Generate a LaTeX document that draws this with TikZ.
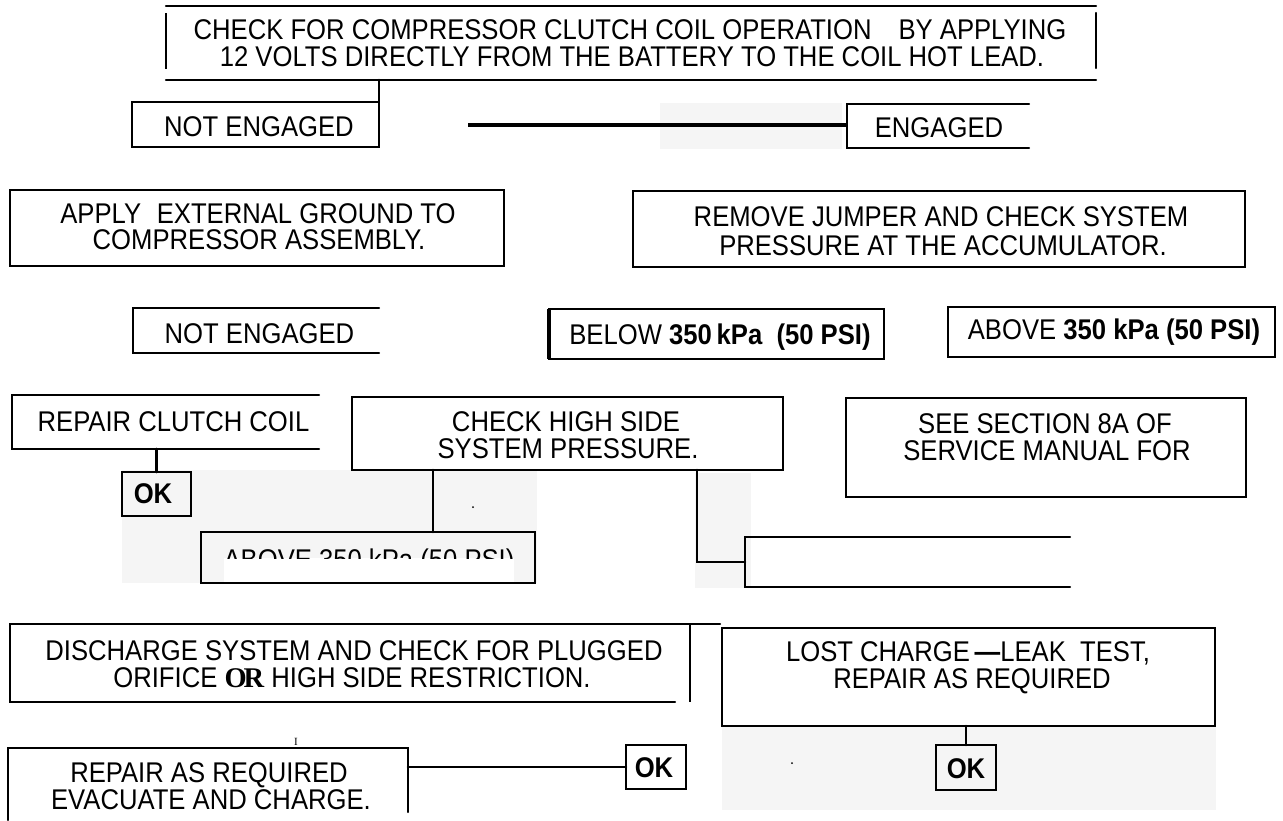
\documentclass[tikz,border=0pt]{standalone}
\usepackage{fontspec}
\setmainfont{Liberation Sans}[FakeStretch=0.9]
\newfontfamily\serffont{Liberation Serif}
\begin{document}
\begin{tikzpicture}[x=1pt,y=-1pt,
  ln/.style={line width=2.2pt, line cap=round},
  cn/.style={line width=2.6pt, line cap=round},
  fr/.style 2 args={draw=none, inner sep=0pt, outer sep=0pt, minimum width=#1, minimum height=#2},
  txt/.style={inner sep=0pt, anchor=base, text height=20pt, text depth=0pt, font=\fontsize{28.5}{30}\selectfont},
  bg/.style={fill=black!4, draw=none}]
\useasboundingbox[fill=white] (0,0) rectangle (1283,820);

% light grey patches of the scan
\fill[bg] (660,103) rectangle (842,149);
\fill[bg] (122,470) rectangle (537,583);
\fill[bg] (695,473) rectangle (751,588);
\fill[bg] (722,727) rectangle (1216,810);
\fill[white] (224,558) rectangle (514,582);

% box frames (named nodes)
\node[fr={930pt}{74pt}] (top) at (631,43) {};
\node[fr={247pt}{45pt}] (ne1) at (255.5,124.5) {};
\node[fr={182pt}{44pt}] (eng) at (938,126) {};
\node[fr={494pt}{76pt}] (apply) at (257,228) {};
\node[fr={612pt}{76pt}] (remove) at (939,229) {};
\node[fr={246pt}{45pt}] (ne2) at (256,330.5) {};
\node[fr={335pt}{50pt}] (below) at (716.5,334) {};
\node[fr={327pt}{50pt}] (above) at (1111.5,332) {};
\node[fr={307pt}{54pt}] (repclutch) at (165.5,422) {};
\node[fr={69pt}{44pt}] (ok1) at (156.5,494) {};
\node[fr={431pt}{73pt}] (checkhigh) at (567.5,433.5) {};
\node[fr={334pt}{51pt}] (above2) at (368,557.5) {};
\node[fr={325pt}{50pt}] (empty) at (907.5,562) {};
\node[fr={400pt}{99pt}] (see) at (1046,447.5) {};
\node[fr={680pt}{78pt}] (discharge) at (350,663) {};
\node[fr={493pt}{98pt}] (lost) at (968.5,677) {};
\node[fr={60pt}{45pt}] (ok3) at (966,767.5) {};
\node[fr={400pt}{72pt}] (repair) at (208,784) {};
\node[fr={60pt}{44pt}] (ok2) at (656,767) {};

% drawn sides
\draw[ln] (top.north west) -- (top.north east);
\draw[ln] (top.south west) -- (top.south east);
\draw[line width=1.8pt] ([yshift=-7pt]top.north west) -- ([yshift=11pt]top.south west);
\draw[ln] ([yshift=-7pt]top.north east) -- ([yshift=12pt]top.south east);

\draw[ln] (ne1.north west) rectangle (ne1.south east);
\draw[ln] (eng.north east) -- (eng.north west) -- (eng.south west) -- (eng.south east);
\draw[ln] (apply.north west) rectangle (apply.south east);
\draw[ln] (remove.north west) rectangle (remove.south east);
\draw[ln] (ne2.north east) -- (ne2.north west) -- (ne2.south west) -- (ne2.south east);
\draw[ln] (below.north west) rectangle (below.south east);
\draw[line width=3.5pt] (below.north west) -- (below.south west);
\draw[ln] (above.north west) rectangle (above.south east);
\draw[ln] (repclutch.north east) -- (repclutch.north west) -- (repclutch.south west) -- (repclutch.south east);
\draw[ln] (ok1.north west) rectangle (ok1.south east);
\draw[ln] (checkhigh.north west) rectangle (checkhigh.south east);
\draw[ln] (above2.north west) rectangle (above2.south east);
\draw[ln] (empty.north east) -- (empty.north west) -- (empty.south west) -- (empty.south east);
\draw[ln] (see.north west) rectangle (see.south east);
\draw[ln] ([xshift=30pt]discharge.north east) -- (discharge.north west) -- (discharge.south west) -- ([xshift=-15pt]discharge.south east);
\draw[line width=1.6pt] (discharge.north east) -- (discharge.south east);
\draw[ln] (lost.north west) rectangle (lost.south east);
\draw[ln] (ok3.north west) rectangle (ok3.south east);
\draw[ln] (repair.south west) -- (repair.north west) -- (repair.north east) -- ([yshift=8pt]repair.south east);
\draw[ln] (ok2.north west) rectangle (ok2.south east);

% connectors
\coordinate (h1) at (468,125);
\draw[cn] (top.south -| ne1.north east) -- (ne1.north east);
\draw[line width=3.2pt] (h1) -- (h1 -| eng.west);
\draw[cn] (repclutch.south -| ok1.north) -- (ok1.north);
\draw[cn] ([xshift=81pt]checkhigh.south west) -- ([xshift=81pt]checkhigh.south west |- above2.north);
\draw[cn] ([xshift=345pt]checkhigh.south west) |- (empty.west);
\draw[cn] (lost.south -| ok3.north) -- (ok3.north);
\draw[cn] (ok2.west -| repair.east) -- (ok2.west);

% specks
\fill (473,507) circle (1pt);
\fill (792,763) circle (1pt);

% texts
\node[txt] (t1a) at (630,39) {CHECK FOR COMPRESSOR CLUTCH COIL OPERATION\hspace{0.7em} BY APPLYING};
\node[txt] (t1b) at (632,66) {12 VOLTS DIRECTLY FROM THE BATTERY TO THE COIL HOT LEAD.};
\node[txt] (t2) at (259,136) {NOT ENGAGED};
\node[txt] (t3) at (939,137) {ENGAGED};
\node[txt] (t4a) at (258,223) {APPLY\hspace{0.3em} EXTERNAL GROUND TO};
\node[txt] (t4b) at (259,249) {COMPRESSOR ASSEMBLY.};
\node[txt] (t5a) at (941,226) {REMOVE JUMPER AND CHECK SYSTEM};
\node[txt] (t5b) at (943,255) {PRESSURE AT THE ACCUMULATOR.};
\node[txt] (t6) at (259.5,343) {NOT ENGAGED};
\node[txt] (t7) at (720,344) {BELOW \textbf{350\,kPa\ \ (50 PSI)}};
\node[txt] (t8) at (1114,339) {ABOVE \textbf{350 kPa (50 PSI)}};
\node[txt] (t9) at (173.5,431) {REPAIR CLUTCH COIL};
\node[txt] (t10) at (153,503) {\textbf{OK}};
\node[txt] (t11a) at (566,431) {CHECK HIGH SIDE};
\node[txt] (t11b) at (568,458) {SYSTEM PRESSURE.};
\begin{scope}
\clip (201,532) rectangle (535,558);
\node[txt] (t12) at (369,569) {ABOVE 350 kPa (50 PSI)};
\end{scope}
\node[txt] (t14a) at (1045,433) {SEE SECTION 8A OF};
\node[txt] (t14b) at (1047,460) {SERVICE MANUAL FOR};
\node[txt] (t15a) at (354,660) {DISCHARGE SYSTEM AND CHECK FOR PLUGGED};
\node[txt] (t15b) at (352,687) {ORIFICE {\serffont\bfseries O\kern-3pt R} HIGH SIDE RESTRICTION.};
\node[txt] (t16a) at (968,661) {LOST CHARGE\,\textbf{---}LEAK\ \ TEST,};
\node[txt] (t16b) at (972,688) {REPAIR AS REQUIRED};
\node[txt] (t17) at (966,778) {\textbf{OK}};
\node[txt] (t18a) at (209,782) {REPAIR AS REQUIRED};
\node[txt] (t18b) at (211,809) {EVACUATE AND CHARGE.};
\node[txt] (t19) at (654,777) {\textbf{OK}};
\node[inner sep=0pt, anchor=base, font=\serffont\fontsize{11}{12}\selectfont] (tI) at (296,745) {I};
\end{tikzpicture}
\end{document}
